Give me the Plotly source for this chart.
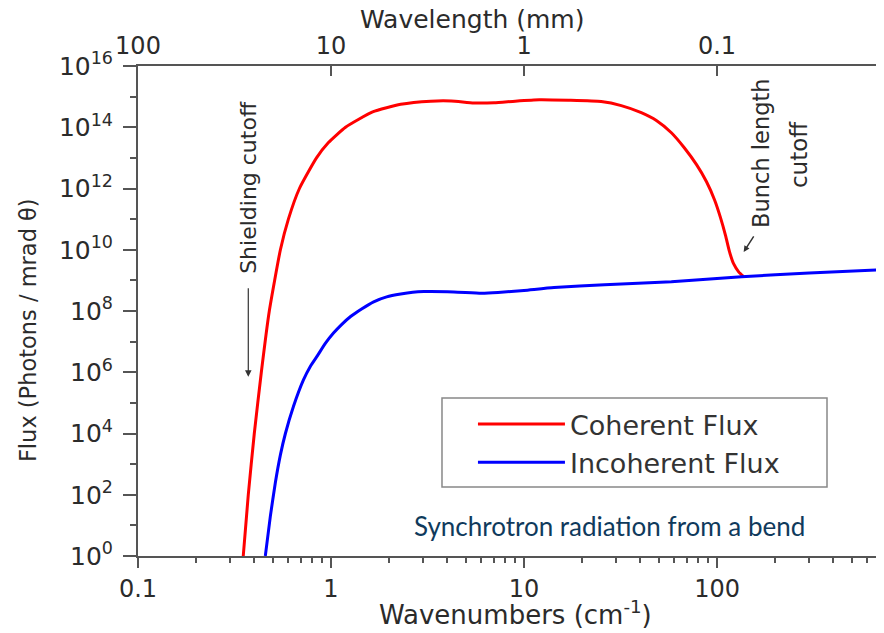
import plotly.graph_objects as go

# ---- data ----
coh_wavenumber = [0.351, 0.3727, 0.4004, 0.4355, 0.479, 0.5467, 0.6014, 0.686, 0.841, 0.970, 1.189,
                  1.643, 2.296, 3.29, 4.2, 5.5, 7.0, 9.0, 12.0, 17.0, 25.1, 31.9, 40.5, 48.5, 58.0,
                  67.8, 78.3, 88.2, 97.0, 104.2, 110.7, 116.1, 121.8, 129.4, 137.4]
coh_flux = [1e0, 1e2, 1e4, 1e6, 1e8, 1e10, 1e11, 1e12, 1e13, 3.16e13, 1e14,
            3.16e14, 5.6e14, 7.1e14, 7.2e14, 6.2e14, 6.3e14, 7.1e14, 7.9e14, 7.6e14, 6.9e14,
            5.1e14, 3.0e14, 1.66e14, 6.6e13, 2.1e13, 6.0e12, 1.66e12, 4.3e11, 1.12e11, 2.9e10,
            8.5e9, 3.5e9, 1.9e9, 1.32e9]

inc_wavenumber = [0.4567, 0.4850, 0.5149, 0.5467, 0.5803, 0.6387, 0.7197, 0.7823, 0.8509, 0.9363,
                  1.030, 1.134, 1.263, 1.440, 1.663, 1.942, 2.296, 2.651, 3.024, 4.33, 6.0, 7.33,
                  10.0, 14.3, 26.1, 58.0, 134.0, 300.0, 741.0]
inc_flux = [1e0, 2.0e1, 2.51e2, 2.0e3, 1.0e4, 7.6e4, 5.6e5, 1.58e6, 3.5e6, 8.9e6,
            1.9e7, 3.6e7, 6.6e7, 1.17e8, 2.0e8, 2.9e8, 3.6e8, 4.1e8, 4.3e8, 4.2e8, 3.8e8, 4.0e8,
            4.7e8, 5.8e8, 7.2e8, 9.1e8, 1.32e9, 1.74e9, 2.24e9]

x_tick_vals = [0.1, 1, 10, 100]
x_tick_text = ["0.1", "1", "10", "100"]
top_tick_vals = [100, 10, 1, 0.1]
top_tick_text = ["100", "10", "1", "0.1"]
y_exponents = [0, 2, 4, 6, 8, 10, 12, 14, 16]
y_tick_vals = [10 ** e for e in y_exponents]
y_tick_text = ["10<sup>%d</sup>" % e for e in y_exponents]
y_minor_vals = [10 ** e for e in range(1, 16, 2)]
x_minor_vals = [m * 10 ** d for d in (-1, 0, 1, 2) for m in range(2, 10)]

FONT = "DejaVu Sans"
TXT = "#2b2b2b"
AX = "#555555"

fig = go.Figure()
fig.add_trace(go.Scatter(x=coh_wavenumber, y=coh_flux, mode="lines", name="Coherent Flux",
                         line=dict(color="#ff0000", width=3, shape="spline", smoothing=0.5)))
fig.add_trace(go.Scatter(x=inc_wavenumber, y=inc_flux, mode="lines", name="Incoherent Flux",
                         line=dict(color="#0000ff", width=3, shape="spline", smoothing=0.5)))
# invisible trace to carry the top / right axes
fig.add_trace(go.Scatter(x=[100, 0.1], y=[1, 1], xaxis="x2", yaxis="y2", mode="lines",
                         line=dict(width=0), opacity=0, showlegend=False, hoverinfo="skip"))

# the page adds an 8px body margin, so the figure is 876x625 placed at (8, 8)
fig.update_layout(
    width=876, height=625,
    margin=dict(l=130, r=0, t=58, b=77, autoexpand=False),
    paper_bgcolor="white", plot_bgcolor="white",
    font=dict(family=FONT, color=TXT),
    xaxis=dict(type="log", range=[-1, 2.865], showgrid=False, zeroline=False, automargin=False,
               showline=True, linecolor=AX, linewidth=2,
               ticks="outside", ticklen=10, tickwidth=1.5, tickcolor=AX,
               tickvals=x_tick_vals, ticktext=x_tick_text,
               tickfont=dict(size=24, family=FONT, color=TXT),
               minor=dict(tickvals=x_minor_vals, ticks="outside", ticklen=5,
                          tickwidth=1.5, tickcolor=AX, showgrid=False)),
    xaxis2=dict(type="log", overlaying="x", side="top", range=[2, -1.865], automargin=False,
                showgrid=False, zeroline=False, showline=True, linecolor=AX, linewidth=2,
                ticks="inside", ticklen=10, tickwidth=1.5, tickcolor=AX,
                tickvals=top_tick_vals, ticktext=top_tick_text,
                tickfont=dict(size=24, family=FONT, color=TXT)),
    yaxis=dict(type="log", range=[0, 16], showgrid=False, zeroline=False, automargin=False,
               showline=True, linecolor=AX, linewidth=2,
               ticks="outside", ticklen=13, tickwidth=1.5, tickcolor=AX,
               tickvals=y_tick_vals, ticktext=y_tick_text, ticklabelstandoff=5,
               tickfont=dict(size=25, family=FONT, color=TXT),
               minor=dict(tickvals=y_minor_vals, ticks="outside", ticklen=6,
                          tickwidth=1.5, tickcolor=AX, showgrid=False)),
    yaxis2=dict(type="log", range=[0, 16], overlaying="y", side="right", automargin=False,
                showgrid=False, zeroline=False, showline=False, showticklabels=False,
                ticks="inside", ticklen=7, tickwidth=1.5, tickcolor=AX,
                tickvals=y_tick_vals,
                minor=dict(tickvals=y_minor_vals, ticks="inside", ticklen=4,
                           tickwidth=1.5, tickcolor=AX, showgrid=False)),
    legend=dict(x=0.449, y=0.3184, xanchor="left", yanchor="top",
                bgcolor="rgba(0,0,0,0)", borderwidth=0,
                font=dict(size=27, family=FONT, color="#333333"),
                itemwidth=87, tracegroupgap=0),
    showlegend=True,
)

# legend frame
fig.add_shape(type="rect", xref="paper", yref="paper", x0=0.4075, x1=0.9236, y0=0.1408, y1=0.3224,
              line=dict(color="#888888", width=1.5), fillcolor="white", layer="below")

# axis titles
fig.add_annotation(x=0.5054, y=-0.1163, xref="paper", yref="paper", showarrow=False,
                   text="Wavenumbers (cm<sup>-1</sup>)", xanchor="center", yanchor="middle",
                   font=dict(size=26, family=FONT, color=TXT))
fig.add_annotation(x=0.4477, y=1.0939, xref="paper", yref="paper", showarrow=False,
                   text="Wavelength (mm)", xanchor="center", yanchor="middle",
                   font=dict(size=25, family=FONT, color=TXT))
fig.add_annotation(x=-0.1475, y=0.461, xref="paper", yref="paper", showarrow=False,
                   text="Flux (Photons / mrad θ)", textangle=-90, xanchor="center", yanchor="middle",
                   font=dict(size=22.5, family=FONT, color=TXT))

# in-plot annotations (log axes -> positions in log10 units)
fig.add_annotation(x=-0.4286, y=12.03, xref="x", yref="y", text="Shielding cutoff",
                   textangle=-90, showarrow=False,
                   font=dict(size=22, family=FONT, color=TXT))
fig.add_annotation(x=-0.4286, y=5.85, xref="x", yref="y", ax=0, ay=-90,
                   axref="pixel", ayref="pixel", text="", showarrow=True,
                   arrowhead=2, arrowsize=1.1, arrowwidth=1.2, arrowcolor="#333333")
fig.add_annotation(x=2.231, y=13.15, xref="x", yref="y", text="Bunch length",
                   textangle=-90, showarrow=False,
                   font=dict(size=22.5, family=FONT, color=TXT))
fig.add_annotation(x=2.426, y=13.1, xref="x", yref="y", text="cutoff",
                   textangle=-90, showarrow=False,
                   font=dict(size=23, family=FONT, color=TXT))
fig.add_annotation(x=2.138, y=9.93, xref="x", yref="y", ax=11, ay=-17,
                   text="", showarrow=True, arrowhead=2, arrowsize=0.8,
                   arrowwidth=1.5, arrowcolor="#333333")
fig.add_annotation(x=0.6327, y=0.0612, xref="paper", yref="paper", xanchor="center", yanchor="middle",
                   text="Synchrotron radiation from a bend", showarrow=False,
                   font=dict(size=26, family="Lato", color="#0f3a5c"))

fig.write_html("out.html")
